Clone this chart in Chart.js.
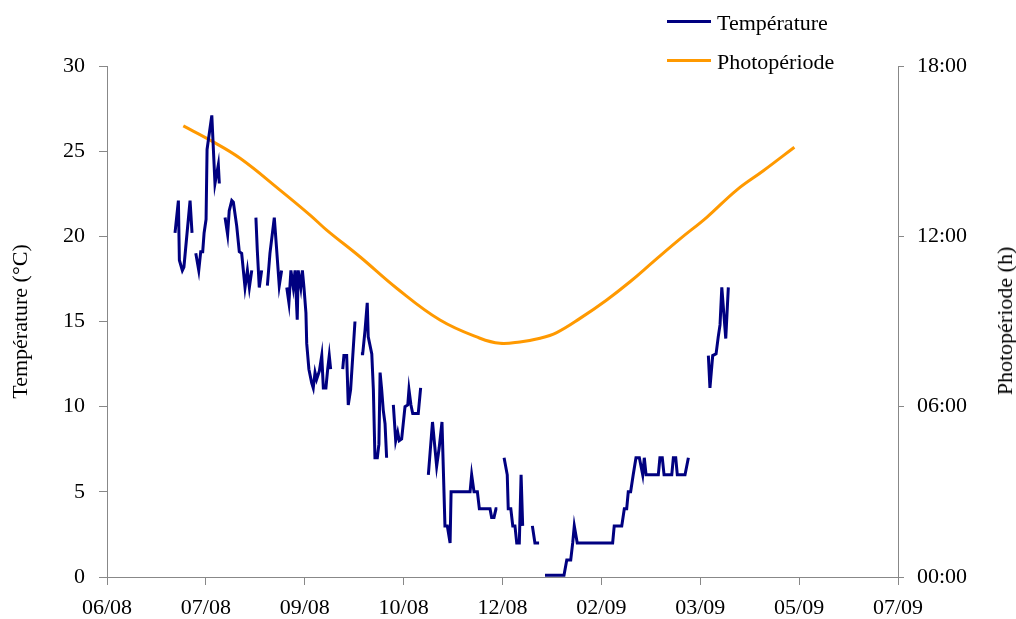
<!DOCTYPE html>
<html lang="fr">
<head>
    <meta charset="UTF-8">
    <title>Température et photopériode</title>
    <script src="https://cdn.jsdelivr.net/npm/chart.js"></script>
    <style>
        body{margin:0;background:#fff;}
        #wrap{position:relative;width:1016px;height:619px;}
        .leg{position:absolute;font-family:'Liberation Serif','Times New Roman',serif;font-size:22px;line-height:22px;color:#000;white-space:nowrap;}
        .legLine{position:absolute;width:44px;height:3px;}
        #rightTitle{position:absolute;left:1005px;top:321px;transform:translate(-50%,-50%) rotate(-90deg);}
    </style>
</head>
<body>
    <div id="wrap">
        <canvas id="chart" width="1016" height="619"></canvas>
        <div class="legLine" style="left:667px;top:20px;background:#000080;"></div>
        <div class="leg" style="left:717px;top:12px;">Température</div>
        <div class="legLine" style="left:667px;top:59px;background:#FF9900;"></div>
        <div class="leg" style="left:717px;top:51px;">Photopériode</div>
        <div class="leg" id="rightTitle">Photopériode (h)</div>
    </div>
    <script>
        // x = days since 01/06/2008, null = no record
        const tempDays=[
            34.4,36.1,36.6,38.1,38.9,42.0,43.0,44,
            44.9,46.4,47.4,48.4,49.1,50.1,50.6,53.0,54.6,56.3,56.8,58,
            59.7,61.0,61.8,63.1,63.9,65.6,66.9,68.1,69.8,71.0,72.0,73.2,74,
            75.3,76.0,77.0,78.2,80,
            81.1,82.4,84.6,85.8,87.1,88.3,90,
            90.9,92.0,93.0,94.2,95.1,96.2,96.7,98.0,98.8,99.6,100.6,101.0,102.1,103.5,104.3,105.2,106.0,107.4,108.6,109.4,110.7,111.6,112.4,113.1,116,
            119.2,119.8,121.2,122.0,123.2,125.4,127,
            128.4,129.3,130.5,131.6,132.1,133.9,134.7,135.5,136.7,137.5,138.1,138.9,139.7,140.6,141.4,143,
            144.8,146.0,147.0,147.8,149.0,150.7,152.1,152.7,153.7,154.6,157.4,158.6,160,
            162.5,164.6,166.7,168.0,169.4,170.9,172.1,173.5,174.0,183.6,184.4,185.6,187.3,188.3,193.7,194.5,195.7,196.7,197.4,199,
            200.8,202.4,202.9,204.2,205.2,206.3,207.2,208.5,209.4,210.2,212,
            215.1,216.4,218.5,220,
            221.5,231.1,232.5,234.5,235.5,236.3,237.8,255.7,256.5,260.3,261.6,262.8,263.6,264.8,266.1,267.5,269.2,270.9,271.7,272.6,278.8,279.6,280.8,281.7,285.6,286.4,287.6,288.4,292.3,294.0,300,
            304.1,304.9,306.3,308.0,309.1,310.0,310.9,312.9,314.2
        ];
        const tempValues=[
            20.2,22.1,18.6,18.0,18.2,22.1,20.2,null,
            19.0,18.0,19.1,19.1,20.2,21.0,25.1,27.1,23.1,24.2,23.1,null,
            21.1,20.1,21.5,22.1,22.0,20.6,19.1,19.0,17.0,18.0,17.0,18.0,null,
            21.1,19.2,17.0,18.0,null,
            17.1,19.0,21.1,19.2,17.1,18.0,null,
            17.0,16.1,18.0,17.0,18.0,15.1,18.0,17.0,18.0,17.0,15.5,13.7,12.2,11.4,11.1,12.0,11.6,12.1,13.0,11.1,11.1,12.2,13.0,12.2,null,
            12.2,13.0,13.0,10.1,11.0,15.0,null,
            13.1,13.1,14.5,16.1,14.1,13.1,11.0,7.0,7.0,7.8,12.0,11.0,9.8,9.0,7.0,null,
            10.1,8.0,8.5,8.0,8.1,10.0,10.1,11.0,10.1,9.6,9.6,11.1,null,
            6.0,9.1,6.5,7.6,9.1,3.0,3.0,2.0,5.0,5.0,6.0,5.0,5.0,4.0,4.0,3.5,3.5,4.0,4.0,null,
            7.0,6.0,4.0,4.0,3.0,3.0,2.0,2.0,6.0,3.0,null,
            3.0,2.0,2.0,null,
            0.1,0.1,1.0,1.0,2.0,3.0,2.0,2.0,3.0,3.0,4.0,4.0,5.0,5.0,6.0,7.0,7.0,6.0,7.0,6.0,6.0,7.0,7.0,6.0,6.0,7.0,7.0,6.0,6.0,7.0,null,
            13.0,11.1,13.0,13.1,14.1,14.8,17.0,14.0,17.0
        ];
        const photoDays=[38.6,52.1,67.3,87.5,102.7,111.1,127.9,146.5,168.4,188.6,198.7,208.8,219.0,227.4,239.2,252.7,264.5,276.3,289.8,303.3,318.4,331.9,347.6];
        const photoHours=[15.89,15.39,14.75,13.63,12.75,12.22,11.28,10.17,9.05,8.41,8.23,8.28,8.41,8.61,9.11,9.76,10.40,11.11,11.91,12.67,13.63,14.31,15.14];
        const xTickLabels=['06/08','07/08','09/08','10/08','12/08','02/09','03/09','05/09','07/09'];
        const rightTickLabels=['00:00','06:00','12:00','18:00'];

        const serif="'Liberation Serif','Times New Roman',serif";
        const axisGrey='#888888';
        const tickFont={family:serif,size:22};

        new Chart(document.getElementById('chart'),{
            type:'line',
            data:{
                datasets:[
                    {
                        label:'Température',
                        data:tempDays.map((d,i)=>({x:d,y:tempValues[i]})),
                        borderColor:'#000080',
                        borderWidth:3,
                        pointRadius:0,
                        tension:0,
                        spanGaps:false,
                        yAxisID:'y'
                    },
                    {
                        label:'Photopériode',
                        data:photoDays.map((d,i)=>({x:d,y:photoHours[i]})),
                        borderColor:'#FF9900',
                        borderWidth:3,
                        pointRadius:0,
                        tension:0.4,
                        yAxisID:'y1'
                    }
                ]
            },
            options:{
                responsive:false,
                animation:false,
                layout:{padding:{top:66,left:0,right:0,bottom:0}},
                plugins:{legend:{display:false},tooltip:{enabled:false}},
                scales:{
                    x:{
                        type:'linear',
                        min:0,
                        max:400,
                        afterFit:s=>{s.height=42;},
                        border:{color:axisGrey},
                        grid:{drawOnChartArea:false,color:axisGrey,tickLength:8},
                        ticks:{
                            stepSize:50,
                            autoSkip:false,
                            maxRotation:0,
                            padding:10,
                            color:'#000',
                            font:tickFont,
                            callback:(v,i)=>xTickLabels[i]
                        }
                    },
                    y:{
                        position:'left',
                        min:0,
                        max:30,
                        afterFit:s=>{s.width=107;},
                        border:{color:axisGrey},
                        grid:{drawOnChartArea:false,color:axisGrey,tickLength:8},
                        ticks:{stepSize:5,padding:14,color:'#000',font:tickFont},
                        title:{
                            display:true,
                            text:'Température (°C)',
                            color:'#000',
                            font:{family:serif,size:22,lineHeight:1},
                            padding:{top:10,bottom:0}
                        }
                    },
                    y1:{
                        position:'right',
                        min:0,
                        max:18,
                        afterFit:s=>{s.width=118;},
                        border:{color:axisGrey},
                        grid:{drawOnChartArea:false,color:axisGrey,tickLength:6},
                        ticks:{
                            stepSize:6,
                            padding:13,
                            color:'#000',
                            font:tickFont,
                            callback:(v,i)=>rightTickLabels[i]
                        }
                    }
                }
            }
        });
    </script>
</body>
</html>
